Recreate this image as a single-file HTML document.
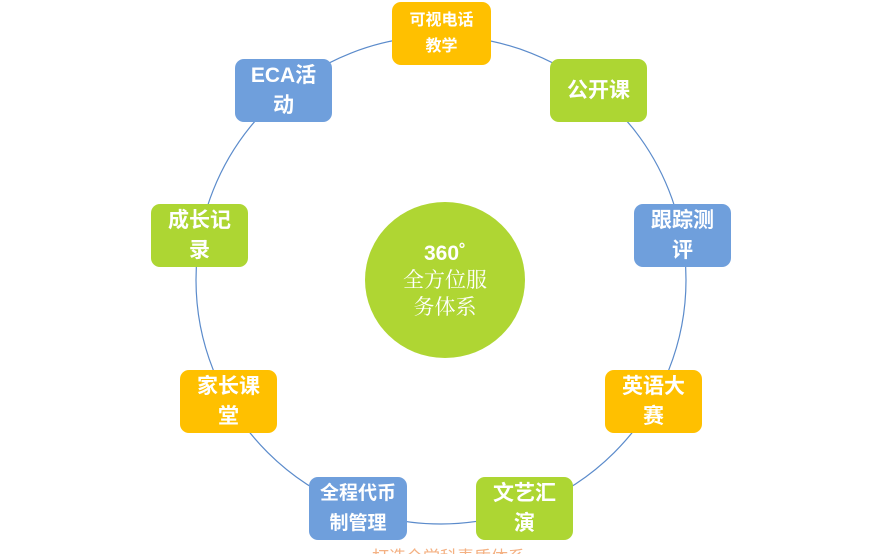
<!DOCTYPE html>
<html><head><meta charset="utf-8"><style>
html,body{margin:0;padding:0;background:#fff;width:887px;height:554px;overflow:hidden;}
body{position:relative;font-family:"Liberation Sans","Noto Sans CJK SC",sans-serif;}
.b{position:absolute;width:97px;height:63px;border-radius:9px;color:#fff;font-weight:bold;font-size:21px;line-height:30px;text-align:center;display:flex;align-items:center;justify-content:center;}
.o{background:#FFC000;} .g{background:#ADD633;} .u{background:#6F9FDC;}
.c{position:absolute;left:365px;top:202px;width:160px;height:156px;border-radius:50%;background:#AFD633;color:#fff;text-align:center;font-family:"Liberation Serif","Noto Serif CJK SC",serif;font-size:21px;line-height:27px;display:flex;align-items:center;justify-content:center;}
</style></head><body>
<svg width="887" height="554" style="position:absolute;left:0;top:0"><ellipse cx="441" cy="280" rx="245" ry="244" fill="none" stroke="#5B8BCB" stroke-width="1.2"/></svg>
<div class="b o" style="left:392px;top:2px;width:99px;font-size:16px;line-height:26px;">可视电话<br>教学</div>
<div class="b g" style="left:550px;top:59px;">公开课</div>
<div class="b u" style="left:634px;top:204px;">跟踪测<br>评</div>
<div class="b o" style="left:605px;top:370px;">英语大<br>赛</div>
<div class="b g" style="left:476px;top:477px;">文艺汇<br>演</div>
<div class="b u" style="left:309px;top:477px;width:98px;font-size:19px;">全程代币<br>制管理</div>
<div class="b o" style="left:180px;top:370px;">家长课<br>堂</div>
<div class="b g" style="left:151px;top:204px;">成长记<br>录</div>
<div class="b u" style="left:235px;top:59px;">ECA活<br>动</div>
<div class="c"><div><b style="font-family:'Liberation Sans',sans-serif">360˚</b><br>全方位服<br>务体系</div></div>
<div style="position:absolute;left:372px;top:548px;height:6px;overflow:hidden;color:#F4B183;font-size:17px;line-height:20px;white-space:nowrap;">打造全学科素质体系</div>
</body></html>
